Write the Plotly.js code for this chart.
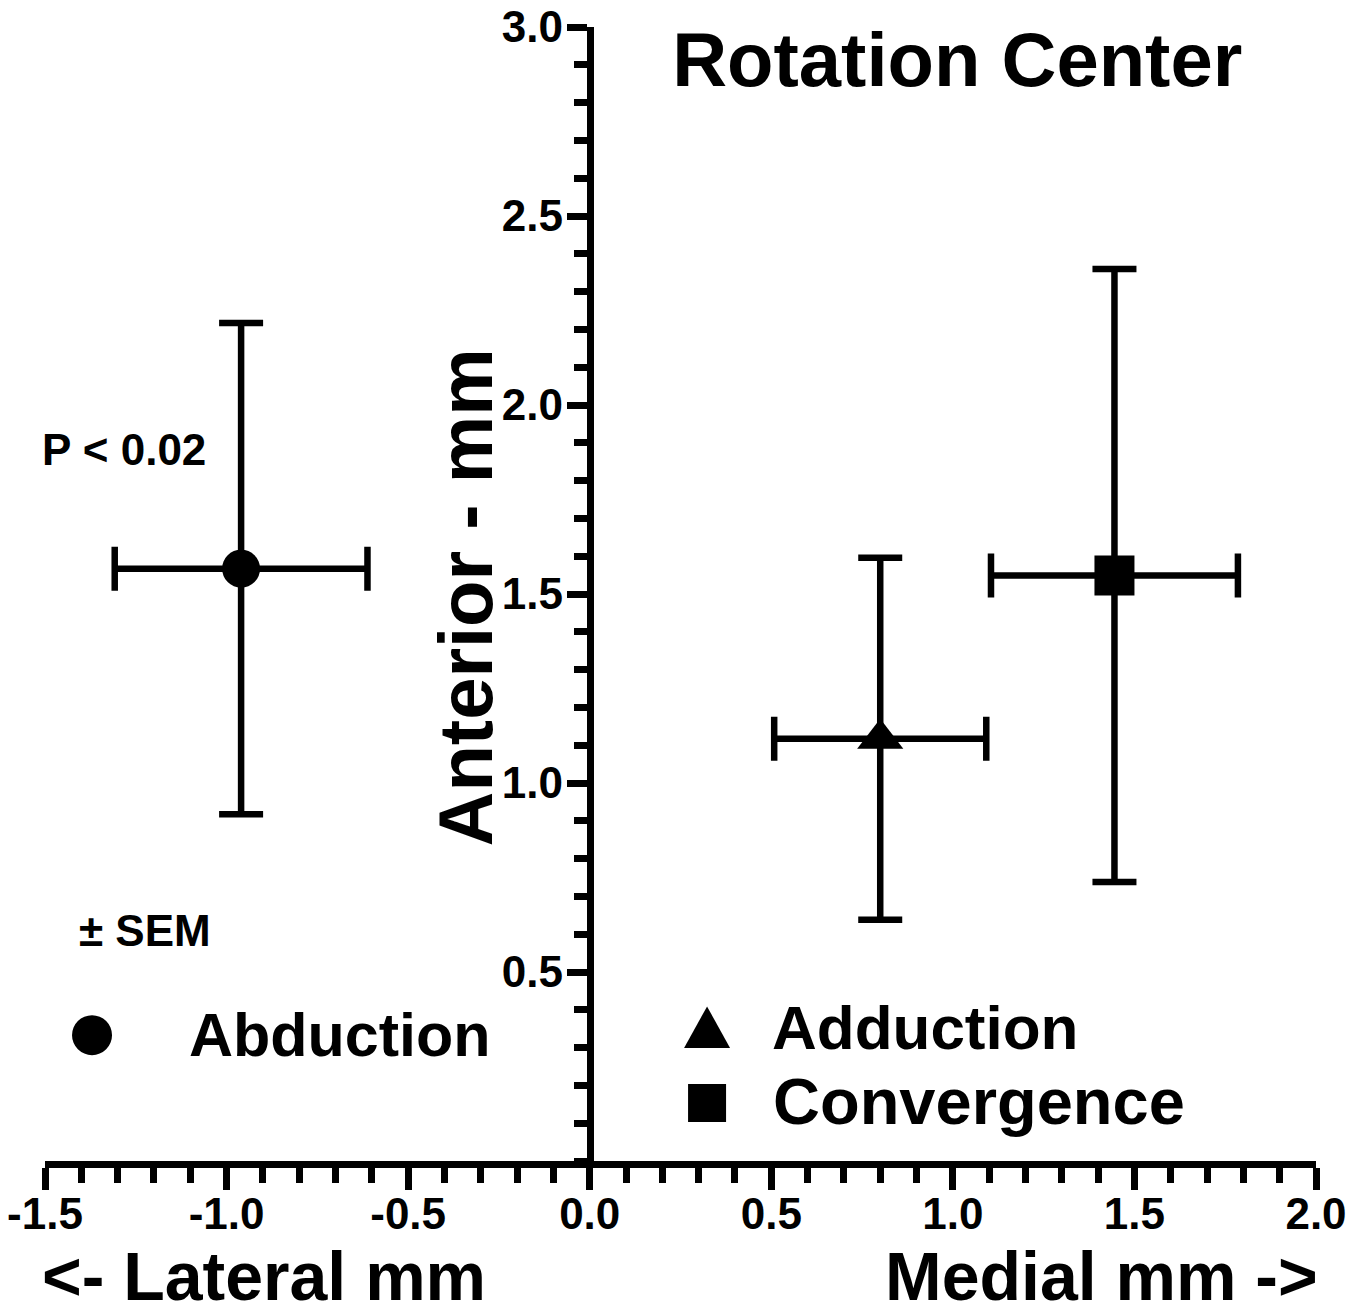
<!DOCTYPE html>
<html>
<head>
<meta charset="utf-8">
<script src="https://cdn.plot.ly/plotly-3.0.1.min.js"></script>
<style>html,body{margin:0;padding:0;background:#fff;}#chart{width:1361px;height:1313px;}</style>
</head>
<body>
<div id="chart"></div>
<script>
// ---- data ----
const seriesNames = ["Abduction", "Adduction", "Convergence"];
const seriesSymbols = ["circle", "triangle-up", "square"];
const xMean = [-0.96, 0.80, 1.445];
const yMean = [1.567, 1.117, 1.549];
const xSEM = [0.348, 0.292, 0.340];
const ySEM = [0.650, 0.479, 0.811];
const xTickVals = [-1.5, -1.0, -0.5, 0.0, 0.5, 1.0, 1.5, 2.0];
const xTickText = ["-1.5", "-1.0", "-0.5", "0.0", "0.5", "1.0", "1.5", "2.0"];
const yTickVals = [0.5, 1.0, 1.5, 2.0, 2.5, 3.0];
const yTickText = ["0.5", "1.0", "1.5", "2.0", "2.5", "3.0"];

const FONT = "Liberation Sans, Arial, Helvetica, sans-serif";
const markerSizes = [38, 40, 40];

const traces = seriesNames.map((name, i) => ({
  type: "scatter",
  mode: "markers",
  name: name,
  x: [xMean[i]],
  y: [yMean[i]],
  marker: {symbol: seriesSymbols[i], size: markerSizes[i], color: "#000"},
  error_x: {type: "data", array: [xSEM[i]], visible: true, color: "#000", thickness: 6.5, width: 22},
  error_y: {type: "data", array: [ySEM[i]], visible: true, color: "#000", thickness: 6.5, width: 22},
  showlegend: false,
  cliponaxis: false
}));

const xRange = [-1.5, 2.0];
const yRange = [0, 3.0];
const yAxisPos = (0 - xRange[0]) / (xRange[1] - xRange[0]);

function legendSymbol(type, px, py, s) {
  const base = {xref: "paper", yref: "paper", xsizemode: "pixel", ysizemode: "pixel",
    xanchor: px, yanchor: py, fillcolor: "#000", line: {width: 0}};
  if (type === "circle") return Object.assign(base, {type: "circle", x0: -s/2, x1: s/2, y0: -s/2, y1: s/2});
  if (type === "square") return Object.assign(base, {type: "rect", x0: -s/2, x1: s/2, y0: -s/2, y1: s/2});
  const h = s * 0.9;
  return Object.assign(base, {type: "path", path: `M ${-s/2} ${-h/2} L ${s/2} ${-h/2} L 0 ${h/2} Z`});
}

const tickFont = {size: 44, family: FONT, weight: "bold", color: "#000"};

const layout = {
  width: 1361, height: 1313,
  margin: {l: 45, r: 45, t: 27, b: 152},
  paper_bgcolor: "#fff", plot_bgcolor: "#fff",
  font: {family: FONT, color: "#000", weight: "bold"},
  title: {text: "Rotation Center", font: {size: 76, family: FONT, weight: "bold", color: "#000"},
          xref: "paper", x: 0.4935, xanchor: "left", yref: "container", y: 0.955, yanchor: "middle"},
  xaxis: {
    range: xRange, tickmode: "array", tickvals: xTickVals, ticktext: xTickText,
    showline: true, linewidth: 7, linecolor: "#000", mirror: false,
    ticks: "outside", ticklen: 22, tickwidth: 7, tickcolor: "#000",
    minor: {ticks: "outside", tickmode: "linear", tick0: 0, dtick: 0.1, ticklen: 15, tickwidth: 7, tickcolor: "#000", showgrid: false},
    showgrid: false, zeroline: false, ticklabelstandoff: -14,
    tickfont: tickFont
  },
  yaxis: {
    range: yRange, anchor: "free", position: yAxisPos, side: "left",
    tickmode: "array", tickvals: yTickVals, ticktext: yTickText,
    showline: true, linewidth: 7, linecolor: "#000",
    ticks: "outside", ticklen: 20, tickwidth: 7, tickcolor: "#000",
    minor: {ticks: "outside", tickmode: "linear", tick0: 0, dtick: 0.1, ticklen: 13, tickwidth: 7, tickcolor: "#000", showgrid: false},
    showgrid: false, zeroline: false, ticklabelstandoff: -5,
    tickfont: tickFont
  },
  annotations: [
    {text: "Anterior - mm", xref: "paper", yref: "paper", x: 0.3305, y: 0.497, xanchor: "center", yanchor: "middle", textangle: -90, showarrow: false, font: {size: 76, family: FONT, weight: "bold", color: "#000"}},
    {text: "&lt;- Lateral mm", xref: "paper", yref: "paper", x: -0.004, y: -0.101, xanchor: "left", yanchor: "middle", showarrow: false, font: {size: 68, family: FONT, weight: "bold", color: "#000"}},
    {text: "Medial mm -&gt;", xref: "paper", yref: "paper", x: 1.003, y: -0.101, xanchor: "right", yanchor: "middle", showarrow: false, font: {size: 68, family: FONT, weight: "bold", color: "#000"}},
    {text: "P &lt; 0.02", xref: "paper", yref: "paper", x: -0.004, y: 0.627, xanchor: "left", yanchor: "middle", showarrow: false, font: {size: 44, family: FONT, weight: "bold", color: "#000"}},
    {text: "± SEM", xref: "paper", yref: "paper", x: 0.025, y: 0.2037, xanchor: "left", yanchor: "middle", showarrow: false, font: {size: 44, family: FONT, weight: "bold", color: "#000"}},
    {text: seriesNames[0], xref: "paper", yref: "paper", x: 0.1115, y: 0.111, xanchor: "left", yanchor: "middle", showarrow: false, font: {size: 61, family: FONT, weight: "bold", color: "#000"}},
    {text: seriesNames[1], xref: "paper", yref: "paper", x: 0.5705, y: 0.118, xanchor: "left", yanchor: "middle", showarrow: false, font: {size: 62, family: FONT, weight: "bold", color: "#000"}},
    {text: seriesNames[2], xref: "paper", yref: "paper", x: 0.571, y: 0.0525, xanchor: "left", yanchor: "middle", showarrow: false, font: {size: 65, family: FONT, weight: "bold", color: "#000"}}
  ],
  shapes: [
    legendSymbol("circle", 0.037, 0.111, 40),
    legendSymbol("triangle", 0.5209, 0.118, 46),
    legendSymbol("square", 0.5209, 0.0511, 38)
  ]
};

Plotly.newPlot("chart", traces, layout, {displayModeBar: false, staticPlot: true});
</script>
</body>
</html>
